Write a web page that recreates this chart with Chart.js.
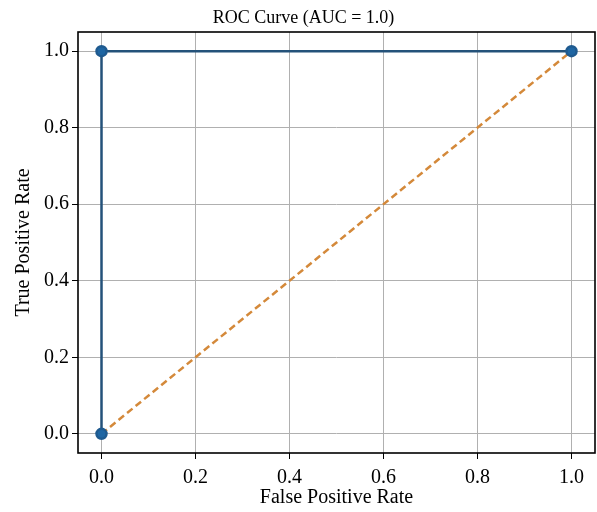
<!DOCTYPE html>
<html>
<head>
<meta charset="utf-8">
<script src="https://cdn.jsdelivr.net/npm/chart.js@4"></script>
<style>
  html, body { margin: 0; padding: 0; background: #fff; }
  #wrap { width: 597px; height: 512px; }
</style>
</head>
<body>
<div id="wrap"><canvas id="chart" width="597" height="512"></canvas></div>
<script>
// ROC data
const fpr = [0.0, 0.0, 1.0];
const tpr = [0.0, 1.0, 1.0];
const chanceX = [0.0, 1.0];
const chanceY = [0.0, 1.0];
const tickValues = [0.0, 0.2, 0.4, 0.6, 0.8, 1.0];
const aucValue = 1.0;

const serif = "'Liberation Serif', 'DejaVu Serif', serif";

// black frame round the plot area, like matplotlib
const frame = {
  id: 'frame',
  afterDraw(chart) {
    const a = chart.chartArea;
    const ctx = chart.ctx;
    ctx.save();
    ctx.strokeStyle = '#000';
    ctx.lineWidth = 1.6;
    ctx.strokeRect(a.left, a.top, a.right - a.left, a.bottom - a.top);
    ctx.restore();
  }
};

const toPts = (xs, ys) => xs.map((x, i) => ({ x: x, y: ys[i] }));

let chart = new Chart(document.getElementById('chart').getContext('2d'), {
  type: 'scatter',
  data: {
    datasets: [{
      label: 'ROC',
      data: toPts(fpr, tpr),
      showLine: true,
      borderColor: '#24527a',
      borderWidth: 2.5,
      pointBackgroundColor: '#1f66a3',
      pointBorderColor: '#1f5a8f',
      pointRadius: 5,
      order: 1
    }, {
      label: 'chance',
      data: toPts(chanceX, chanceY),
      showLine: true,
      borderColor: '#d4893a',
      borderWidth: 2.5,
      borderDash: [7, 4],
      pointRadius: 0,
      order: 2
    }]
  },
  options: {
    responsive: false,
    animation: false,
    layout: { autoPadding: false, padding: { left: 12, right: 2, top: 4, bottom: 2 } },
    plugins: {
      legend: { display: false },
      tooltip: { enabled: false },
      title: {
        display: true,
        text: 'ROC Curve (AUC = ' + aucValue.toFixed(1) + ')',
        color: '#000',
        font: { family: serif, size: 18, weight: 'normal' },
        padding: { top: 3, bottom: 3.4 }
      }
    },
    scales: {
      x: {
        type: 'linear',
        min: -0.05, max: 1.05,
        afterBuildTicks: s => { s.ticks = tickValues.map(v => ({ value: v })); },
        afterFit: s => { s.height = 57; s.paddingRight = 0; s.paddingLeft = 0; },
        ticks: {
          color: '#000',
          font: { family: serif, size: 20 },
          padding: 7,
          maxRotation: 0,
          callback: v => v.toFixed(1)
        },
        grid: { color: '#b0b0b0', lineWidth: 1, tickLength: 6, tickColor: '#000' },
        border: { display: false },
        title: {
          display: true,
          text: 'False Positive Rate',
          color: '#000',
          font: { family: serif, size: 20 },
          padding: { top: 0, bottom: 0 }
        }
      },
      y: {
        type: 'linear',
        min: -0.05, max: 1.05,
        afterBuildTicks: s => { s.ticks = tickValues.map(v => ({ value: v })); },
        afterFit: s => { s.width = 66; s.paddingTop = 0; s.paddingBottom = 0; },
        ticks: {
          color: '#000',
          font: { family: serif, size: 20 },
          padding: 3,
          callback: v => v.toFixed(1)
        },
        grid: { color: '#b0b0b0', lineWidth: 1, tickLength: 6, tickColor: '#000' },
        border: { display: false },
        title: {
          display: true,
          text: 'True Positive Rate',
          color: '#000',
          font: { family: serif, size: 20 },
          padding: { top: 0, bottom: 0 }
        }
      }
    }
  },
  plugins: [frame]
});
</script>
</body>
</html>
